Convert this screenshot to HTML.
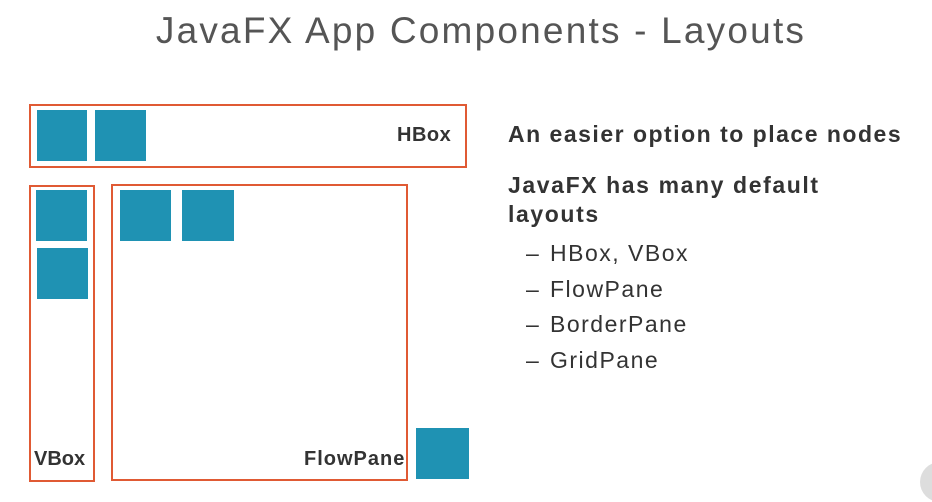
<!DOCTYPE html>
<html><head><style>
body{margin:0;width:932px;height:492px;background:#fff;position:relative;overflow:hidden;font-family:"Liberation Sans",sans-serif;}
.a{position:absolute}
.b{position:absolute;border:2px solid #e05a34;box-sizing:border-box}
.s{position:absolute;background:#1f92b3}
.t{position:absolute;color:#333;white-space:nowrap}
</style></head><body>
<div class="t" style="left:0;width:962px;text-align:center;top:10px;font-size:37px;color:#555;letter-spacing:2.2px">JavaFX App Components - Layouts</div>
<div class="b" style="left:29px;top:104px;width:438px;height:64px"></div>
<div class="s" style="left:37px;top:110px;width:50px;height:51px"></div>
<div class="s" style="left:95px;top:110px;width:51px;height:51px"></div>
<div class="t" style="left:397px;top:124px;font-size:20px;font-weight:bold;color:#333;letter-spacing:0.5px">HBox</div>
<div class="b" style="left:29px;top:185px;width:66px;height:297px"></div>
<div class="s" style="left:36px;top:190px;width:51px;height:51px"></div>
<div class="s" style="left:37px;top:248px;width:51px;height:51px"></div>
<div class="t" style="left:34px;top:448px;font-size:20px;font-weight:bold">VBox</div>
<div class="b" style="left:111px;top:184px;width:297px;height:297px"></div>
<div class="s" style="left:120px;top:190px;width:51px;height:51px"></div>
<div class="s" style="left:182px;top:190px;width:52px;height:51px"></div>
<div class="t" style="left:304px;top:448px;font-size:20px;font-weight:bold;letter-spacing:1px">FlowPane</div>
<div class="s" style="left:416px;top:428px;width:53px;height:51px"></div>
<div class="t" style="left:508px;top:121px;font-size:23px;font-weight:bold;letter-spacing:1.5px">An easier option to place nodes</div>
<div class="t" style="left:508px;top:171px;font-size:23px;font-weight:bold;line-height:29px;letter-spacing:1.6px">JavaFX has many default<br>layouts</div>
<div class="t" style="left:526px;top:236px;font-size:23px;line-height:35.7px;letter-spacing:1.5px">–</div>
<div class="t" style="left:550px;top:236px;font-size:23px;line-height:35.7px;letter-spacing:1.5px">HBox, VBox<br>FlowPane<br>BorderPane<br>GridPane</div>
<div class="t" style="left:526px;top:271.7px;font-size:23px;line-height:35.7px">–<br>–<br>–</div>
<div class="a" style="left:920px;top:462px;width:40px;height:40px;border-radius:50%;background:#ddd"></div>
</body></html>
